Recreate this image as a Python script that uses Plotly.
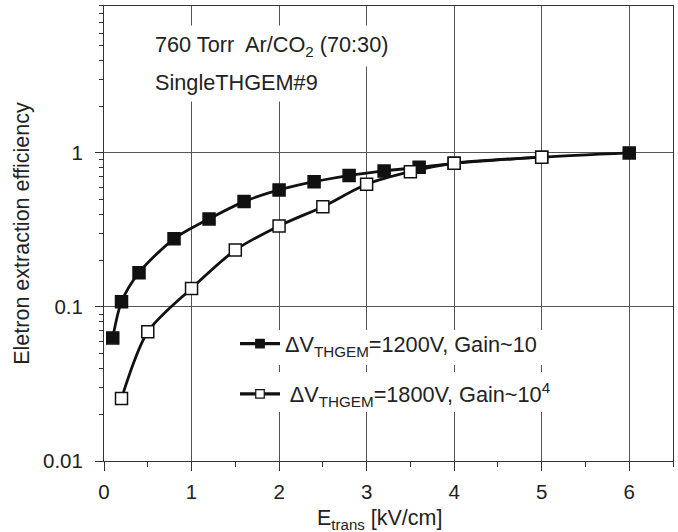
import plotly.graph_objects as go

# Data
e_1200 = [0.1, 0.2, 0.4, 0.8, 1.2, 1.6, 2.0, 2.4, 2.8, 3.2, 3.6, 4.0, 5.0, 6.0]
eff_1200 = [0.063, 0.108, 0.167, 0.277, 0.373, 0.483, 0.575, 0.651, 0.713, 0.764, 0.807, 0.857, 0.938, 1.0]

e_1800 = [0.2, 0.5, 1.0, 1.5, 2.0, 2.5, 3.0, 3.5, 4.0, 5.0]
eff_1800 = [0.0255, 0.069, 0.132, 0.234, 0.336, 0.448, 0.626, 0.756, 0.857, 0.938]

name_1200 = "ΔV<sub>THGEM</sub>=1200V, Gain~10"
name_1800 = " ΔV<sub>THGEM</sub>=1800V, Gain~10<sup>4</sup>"

x_ticks = [0, 1, 2, 3, 4, 5, 6]
x_minor = [0.5, 1.5, 2.5, 3.5, 4.5, 5.5, 6.5]
y_ticks = [0.01, 0.1, 1]
y_tick_text = ["0.01", "0.1", "1"]

FONT = "Liberation Sans, Arial, Helvetica, sans-serif"
TXT = "#222222"
FS_TICK = 20.5
FS_TITLE = 21.5
FS_TEXT = 21.7

fig = go.Figure()
for xs, ys, fill in ((e_1200, eff_1200, "#111111"), (e_1800, eff_1800, "white")):
    fig.add_trace(go.Scatter(
        x=xs, y=ys, mode="lines+markers", showlegend=False,
        line=dict(color="#111111", width=2.8, shape="spline", smoothing=0.8),
        marker=dict(symbol="square", size=12, color=fill,
                    line=dict(color="#111111", width=1.5)),
    ))

# legend entries (smaller symbols, as in the reference)
for name, fill, grp in ((name_1200, "#111111", "a"), (name_1800, "white", "b")):
    fig.add_trace(go.Scatter(
        x=[None], y=[None], name=name, mode="lines+markers",
        line=dict(color="#111111", width=3.2),
        marker=dict(symbol="square", size=8.5, color=fill,
                    line=dict(color="#111111", width=1.2)),
        legendgroup=grp,
    ))

minor_y = [m * 10.0 ** d for d in (-2, -1, 0) for m in range(2, 10)]

def py(px):
    # pixel row -> paper fraction (plot area rows 6..461)
    return (461 - px) / 455.0

def pxx(px):
    # pixel column -> paper fraction (plot area columns 104..673)
    return (px - 104) / 569.0

fig.update_layout(
    width=678, height=532,
    margin=dict(l=104, r=5, t=6, b=71),
    paper_bgcolor="white", plot_bgcolor="white",
    font=dict(family=FONT, size=FS_TICK, color=TXT),
    showlegend=True,
    legend=dict(x=pxx(235), y=py(323), xanchor="left", yanchor="top",
                bgcolor="rgba(0,0,0,0)", borderwidth=0, tracegroupgap=19,
                font=dict(family=FONT, size=FS_TEXT, color=TXT),
                itemwidth=40),
    shapes=[
        dict(type="rect", xref="paper", yref="paper", layer="above",
             x0=pxx(232), x1=pxx(558), y0=py(365), y1=py(330),
             fillcolor="white", line=dict(width=0)),
        dict(type="rect", xref="paper", yref="paper", layer="above",
             x0=pxx(232), x1=pxx(558), y0=py(412), y1=py(372),
             fillcolor="white", line=dict(width=0)),
    ],
    annotations=[
        dict(x=0.5, y=py(46), xref="x", yref="paper", xanchor="left", yanchor="middle",
             text="760 Torr  Ar/CO<sub>2</sub> (70:30)", showarrow=False,
             bgcolor="white", borderpad=6, font=dict(size=FS_TEXT, color=TXT)),
        dict(x=0.5, y=py(83), xref="x", yref="paper", xanchor="left", yanchor="middle",
             text="SingleTHGEM#9", showarrow=False,
             bgcolor="white", borderpad=6, font=dict(size=FS_TEXT, color=TXT)),
        dict(x=pxx(379), y=py(519), xref="paper", yref="paper",
             xanchor="center", yanchor="middle", showarrow=False,
             text="E<sub>trans</sub> [kV/cm]", font=dict(size=FS_TITLE, color=TXT)),
    ],
)

fig.update_xaxes(
    range=[0, 6.5], tickvals=x_ticks, ticks="outside", ticklen=9, tickwidth=1,
    tickcolor="#333", showline=True, linecolor="#333", linewidth=1, mirror=True,
    showgrid=True, gridcolor="#555", gridwidth=1, zeroline=False,
    ticklabelstandoff=3,
    minor=dict(tickvals=x_minor, ticks="outside",
               ticklen=5, tickcolor="#333", showgrid=False),
    tickfont=dict(size=FS_TICK, color=TXT),
)
fig.update_yaxes(
    type="log", range=[-2, 0.954], tickvals=y_ticks, ticktext=y_tick_text,
    ticks="outside", ticklen=8, tickwidth=1, tickcolor="#333",
    showline=True, linecolor="#333", linewidth=1, mirror=True,
    showgrid=True, gridcolor="#555", gridwidth=1, zeroline=False,
    ticklabelstandoff=8,
    minor=dict(tickvals=minor_y, ticks="outside", ticklen=4, tickcolor="#333",
               showgrid=False),
    title=dict(text="Eletron extraction efficiency", standoff=7,
               font=dict(size=FS_TITLE, color=TXT)),
    tickfont=dict(size=FS_TICK, color=TXT),
)

fig.write_html("out.html")
